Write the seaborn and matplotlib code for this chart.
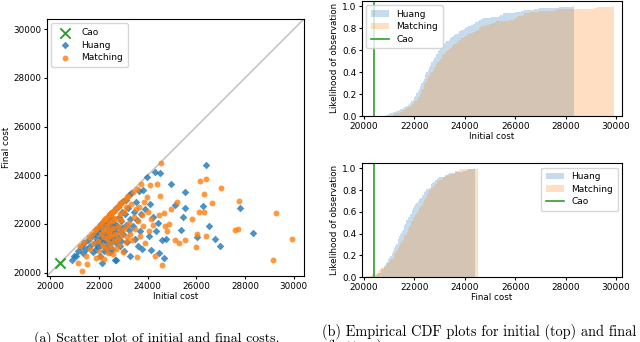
import numpy as np
import pandas as pd
import matplotlib
matplotlib.use("Agg")
import matplotlib.pyplot as plt
import seaborn as sns
from matplotlib.patches import Patch
from matplotlib.lines import Line2D

# ── Données ──────────────────────────────────────────────────
huang_initial = [
    20890, 20950, 21050, 21150, 21250, 21320, 21400, 21480, 21550, 21620, 21700, 21760,
    21820, 21850, 21880, 21900, 21930, 21960, 21990, 22010, 22030, 22050, 22070, 22085,
    22100, 22120, 22140, 22160, 22180, 22200, 22220, 22240, 22260, 22270, 22285, 22295,
    22310, 22330, 22350, 22370, 22390, 22410, 22430, 22440, 22455, 22465, 22475, 22488,
    22500, 22520, 22540, 22560, 22580, 22600, 22620, 22640, 22660, 22670, 22685, 22695,
    22710, 22730, 22760, 22790, 22810, 22840, 22860, 22880, 22900, 22920, 22935, 22948,
    22970, 23000, 23030, 23060, 23090, 23120, 23150, 23180, 23210, 23240, 23260, 23290,
    23330, 23380, 23420, 23460, 23510, 23550, 23600, 23640, 23690, 23730, 23770, 23800,
    23870, 23970, 24050, 24100, 24150, 24200, 24290, 24350, 24420, 24450, 24520, 24580,
    24680, 24740, 24970, 25100, 25380, 25440, 25530, 25550, 26040, 26260, 26380, 26530,
    26780, 26970, 27770, 28330,
]
huang_final = [
    20520, 20680, 20700, 20900, 21050, 20800, 21200, 20950, 21350, 21100, 21500, 20850,
    21600, 21200, 20950, 21750, 21400, 21050, 21850, 21300, 20700, 21600, 21900, 21150,
    22000, 21450, 20400, 21700, 21250, 22100, 20900, 21550, 21950, 21350, 22150, 21000,
    22250, 21600, 21150, 21850, 22300, 21400, 20850, 22050, 21700, 22400, 21250, 21950,
    22450, 21500, 20950, 21800, 22200, 21350, 22550, 21650, 20500, 22000, 21200, 22650,
    20510, 21900, 22700, 21450, 22300, 21100, 22800, 21700, 22100, 21300, 22500, 21850,
    22950, 21600, 20900, 22400, 21950, 23000, 21250, 22650, 21750, 23200, 20700, 22200,
    23250, 21900, 22500, 21400, 22900, 22150, 21100, 23350, 21700, 22400, 20950, 23400,
    22600, 23930, 21500, 22800, 20920, 22300, 24150, 21700, 22050, 20800, 24110, 21350,
    20580, 21400, 23630, 22770, 21770, 22300, 22640, 23330, 21480, 22740, 24400, 21920,
    21380, 21100, 22660, 21620,
]
matching_initial = [
    21150, 21230, 21300, 21380, 21450, 21510, 21580, 21640, 21700, 21760, 21820, 21880,
    21920, 21950, 21990, 22020, 22050, 22080, 22110, 22140, 22160, 22190, 22205, 22220,
    22240, 22260, 22280, 22300, 22320, 22340, 22360, 22375, 22390, 22400, 22410, 22418,
    22430, 22450, 22470, 22490, 22510, 22530, 22550, 22570, 22585, 22600, 22610, 22618,
    22640, 22660, 22690, 22710, 22740, 22760, 22790, 22810, 22830, 22850, 22865, 22878,
    22900, 22930, 22960, 22990, 23010, 23040, 23060, 23090, 23110, 23130, 23140, 23148,
    23190, 23230, 23270, 23310, 23350, 23390, 23430, 23470, 23510, 23540, 23560, 23590,
    23640, 23690, 23730, 23770, 23810, 23860, 23900, 23950, 24000, 24050, 24090, 24130,
    24200, 24315, 24380, 24450, 24500, 24550, 24575, 24650, 24720, 24800, 24880, 24960,
    25100, 25210, 25290, 25520, 25800, 25990, 26010, 26110, 26140, 26310, 26330, 26400,
    26410, 26640, 27000, 27600, 27700, 27730, 29150, 29270, 29930,
]
matching_final = [
    20400, 21100, 20070, 21250, 20700, 20340, 21450, 20950, 21600, 21200, 21750, 20600,
    21850, 21300, 20900, 21950, 20620, 21600, 22050, 21150, 21800, 22150, 21450, 20550,
    22200, 21700, 21000, 22250, 21400, 21900, 22300, 20800, 21600, 22350, 21200, 22050,
    22400, 21750, 21050, 22450, 21500, 22100, 22500, 20750, 21850, 22550, 21300, 22250,
    22600, 21600, 22200, 20950, 22700, 21900, 21400, 22750, 21150, 22400, 21700, 22850,
    22150, 21550, 22900, 20850, 22500, 21800, 23000, 21250, 22700, 21950, 23100, 21450,
    23150, 22050, 21600, 22800, 21350, 23300, 22300, 21800, 22600, 23450, 20620, 22100,
    22700, 21500, 23650, 22350, 21900, 22900, 21200, 23100, 22500, 21700, 23600, 22200,
    21950, 20685, 23650, 22350, 23150, 24510, 20300, 22450, 21900, 21700, 22000, 22600,
    21350, 22880, 21220, 21330, 22220, 21050, 21580, 22470, 23770, 22480, 23210, 23840,
    21510, 22840, 23470, 21730, 21810, 22930, 20530, 22440, 21380,
]
cao_initial = 20400
cao_final = 20400

c_huang, c_match, c_cao = "#1f77b4", "#ff7f0e", "#2ca02c"
lims = (19860, 30420)
cdf_xlim = (19920, 30240)
ticks = [20000, 22000, 24000, 26000, 28000, 30000]

plt.rcParams['font.size'] = 6
fig = plt.figure(figsize=(6.4, 3.42), dpi=100)

# ── (a) Nuage de points ──────────────────────────────────────
ax = fig.add_axes([0.0734, 0.193, 0.4016, 0.7515])
ax.plot(lims, lims, color="#c4c4c4", lw=1.2, zorder=0)
sns.scatterplot(x=[cao_initial], y=[cao_final], marker="x", s=55, color=c_cao,
                linewidth=1.4, label="Cao", ax=ax, zorder=4)
sns.scatterplot(x=huang_initial, y=huang_final, marker="D", s=15, color=c_huang,
                alpha=0.8, linewidth=0, label="Huang", ax=ax)
sns.scatterplot(x=matching_initial, y=matching_final, marker="o", s=18, color=c_match,
                alpha=0.8, linewidth=0, label="Matching", ax=ax)
ax.set_xlim(lims)
ax.set_ylim(lims)
ax.set_xticks(ticks)
ax.set_yticks(ticks)
ax.set_xlabel("Initial cost", fontsize=6.3, labelpad=1)
ax.set_ylabel("Final cost", fontsize=6.3, labelpad=2)
ax.tick_params(labelsize=6.3, length=2.5, pad=1.5)
ax.legend(loc="upper left", fontsize=6.5, handletextpad=0.8, borderpad=0.5,
          labelspacing=0.4)

# ── (b) CDF empiriques ───────────────────────────────────────
def cdf_panel(rect, h, m, cao, xlabel, loc):
    a = fig.add_axes(rect)
    sns.histplot(x=h, bins=150, cumulative=True, stat="probability", element="bars",
                 color=c_huang, alpha=0.25, linewidth=0, ax=a)
    sns.histplot(x=m, bins=150, cumulative=True, stat="probability", element="bars",
                 color=c_match, alpha=0.25, linewidth=0, ax=a)
    a.axvline(cao, color=c_cao, lw=1.2)
    a.set_xlim(cdf_xlim)
    a.set_ylim(0, 1.05)
    a.set_xticks(ticks)
    a.set_yticks([0, 0.2, 0.4, 0.6, 0.8, 1.0])
    a.set_xlabel(xlabel, fontsize=6.3, labelpad=1)
    a.set_ylabel("Likelihood of observation", fontsize=6.3, labelpad=2)
    a.tick_params(labelsize=6.5, length=2.5, pad=1.5)
    handles = [Patch(facecolor=c_huang, alpha=0.25, label="Huang"),
               Patch(facecolor=c_match, alpha=0.25, label="Matching"),
               Line2D([0], [0], color=c_cao, lw=1.2, label="Cao")]
    a.legend(handles=handles, loc=loc, fontsize=6.5, borderpad=0.5, labelspacing=0.4)
    return a

cdf_panel([0.5656, 0.6608, 0.4063, 0.3377], huang_initial, matching_initial,
          cao_initial, "Initial cost", "upper left")
cdf_panel([0.5656, 0.190, 0.4063, 0.3333], huang_final, matching_final,
          cao_final, "Final cost", "upper right")

# ── Légendes (captions) ──────────────────────────────────────
fig.text(157 / 640, 1 - 338 / 342, "(a) Scatter plot of initial and final costs.",
         family="cmr10", fontsize=10, ha="center", va="center")
fig.text(322 / 640, 1 - 332 / 342, "(b) Empirical CDF plots for initial (top) and final",
         family="cmr10", fontsize=10.3, ha="left", va="center")
fig.text(327 / 640, 1 - 347 / 342, "(bottom).",
         family="cmr10", fontsize=10.3, ha="left", va="center")

fig.savefig("out.png", dpi=100)
